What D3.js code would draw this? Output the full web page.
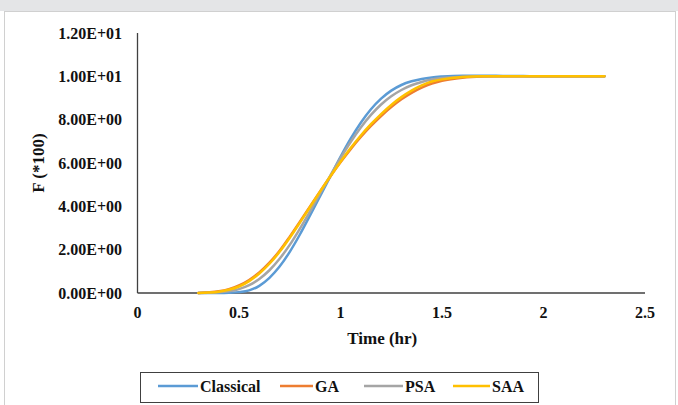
<!DOCTYPE html>
<html><head><meta charset="utf-8">
<script src="https://cdn.jsdelivr.net/npm/d3@7"></script>
<style>body{margin:0;background:#fff;}svg{display:block;}</style>
</head><body>
<script>
const times = [0.3,0.35,0.4,0.45,0.5,0.55,0.6,0.65,0.7,0.75,0.8,0.85,0.9,0.95,1.0,1.05,1.1,1.15,1.2,1.25,1.3,1.35,1.4,1.45,1.5,1.6,1.7,1.8,1.9,2.0,2.1,2.2,2.3];
const classical = [0,0,0,0.01,0.04,0.12,0.33,0.70,1.22,1.90,2.70,3.58,4.48,5.38,6.28,7.12,7.86,8.48,8.97,9.34,9.60,9.77,9.88,9.95,9.99,10.03,10.03,10.02,10.01,10.0,10.0,10.0,10.0];
const ga = [0,0.03,0.08,0.18,0.35,0.60,0.95,1.40,1.95,2.60,3.29,4.00,4.70,5.38,6.03,6.64,7.20,7.71,8.17,8.58,8.94,9.24,9.48,9.67,9.80,9.94,9.99,10.0,10.0,10.0,10.0,10.0,10.0];
const psa = [0,0.01,0.03,0.08,0.18,0.36,0.65,1.05,1.58,2.22,2.97,3.77,4.60,5.42,6.22,6.97,7.64,8.22,8.70,9.08,9.37,9.59,9.74,9.85,9.92,9.98,10.0,10.0,10.0,10.0,10.0,10.0,10.0];
const saa = [0,0.02,0.06,0.15,0.30,0.55,0.90,1.35,1.90,2.55,3.25,3.97,4.69,5.39,6.06,6.69,7.27,7.79,8.26,8.68,9.04,9.34,9.58,9.76,9.86,9.97,10.0,10.0,10.0,10.0,10.0,10.0,10.0];
const seriesNames = ["Classical","GA","PSA","SAA"];
const seriesColors = ["#5B9BD5","#ED7D31","#A5A5A5","#FFC000"];
const xTicks = [0,0.5,1,1.5,2,2.5];
const xTickLabels = ["0","0.5","1","1.5","2","2.5"];
const yTicks = [0,2,4,6,8,10,12];
const yTickLabels = ["0.00E+00","2.00E+00","4.00E+00","6.00E+00","8.00E+00","1.00E+01","1.20E+01"];

const W = 678, H = 405;
const svg = d3.select("body").append("svg").attr("width", W).attr("height", H);
const font = "'Liberation Serif','Times New Roman',serif";

// top band and frame
svg.append("rect").attr("x",0).attr("y",0).attr("width",W).attr("height",11).attr("fill","#e4e5e7");
svg.append("rect").attr("x",4.5).attr("y",11.5).attr("width",671).attr("height",400).attr("fill","#fff").attr("stroke","#d0d0d0");

const x = d3.scaleLinear().domain([0,2.5]).range([137.5,645]);
const y = d3.scaleLinear().domain([0,12]).range([293,33]);

// axes lines
svg.append("line").attr("x1",x(0)).attr("x2",x(0)).attr("y1",y(12)).attr("y2",y(0)).attr("stroke","#404040").attr("stroke-width",1.3);
svg.append("line").attr("x1",x(0)).attr("x2",x(2.5)).attr("y1",y(0)).attr("y2",y(0)).attr("stroke","#404040").attr("stroke-width",1.3);

// tick labels
svg.selectAll(".yt").data(yTicks).enter().append("text")
  .attr("x",122).attr("y",d=>y(d)).attr("dy","0.35em").attr("text-anchor","end")
  .attr("font-family",font).attr("font-weight","bold").attr("font-size",16).attr("fill","#111")
  .text((d,i)=>yTickLabels[i]);
svg.selectAll(".xt").data(xTicks).enter().append("text")
  .attr("x",d=>x(d)).attr("y",318).attr("text-anchor","middle")
  .attr("font-family",font).attr("font-weight","bold").attr("font-size",16).attr("fill","#111")
  .text((d,i)=>xTickLabels[i]);

// axis titles
svg.append("text").attr("x",(x(0)+x(2.5))/2 - 9).attr("y",344).attr("text-anchor","middle")
  .attr("font-family",font).attr("font-weight","bold").attr("font-size",17).attr("fill","#111").text("Time (hr)");
svg.append("text").attr("transform",`translate(44,${(y(0)+y(12))/2}) rotate(-90)`).attr("text-anchor","middle")
  .attr("font-family",font).attr("font-weight","bold").attr("font-size",17).attr("fill","#111").text("F (*100)");

// lines
const allSeries = [classical, ga, psa, saa];
const line = d3.line().x(d=>x(d[0])).y(d=>y(d[1])).curve(d3.curveMonotoneX);
allSeries.forEach((vals,i)=>{
  svg.append("path").datum(times.map((t,j)=>[t,vals[j]]))
    .attr("d",line).attr("fill","none").attr("stroke",seriesColors[i]).attr("stroke-width",2.5).attr("stroke-linecap","round");
});

// legend
svg.append("rect").attr("x",140.5).attr("y",372.5).attr("width",398).attr("height",30).attr("fill","#fff").attr("stroke","#404040").attr("stroke-width",1);
const legX = [158,280,364,453];
const legLen = [40,33,39,37];
seriesNames.forEach((n,i)=>{
  svg.append("line").attr("x1",legX[i]).attr("x2",legX[i]+legLen[i]).attr("y1",386).attr("y2",386)
    .attr("stroke",seriesColors[i]).attr("stroke-width",2.5);
  svg.append("text").attr("x",legX[i]+legLen[i]+2).attr("y",386).attr("dy","0.35em")
    .attr("font-family",font).attr("font-weight","bold").attr("font-size",16).attr("fill","#111").text(n);
});
</script>
</body></html>
